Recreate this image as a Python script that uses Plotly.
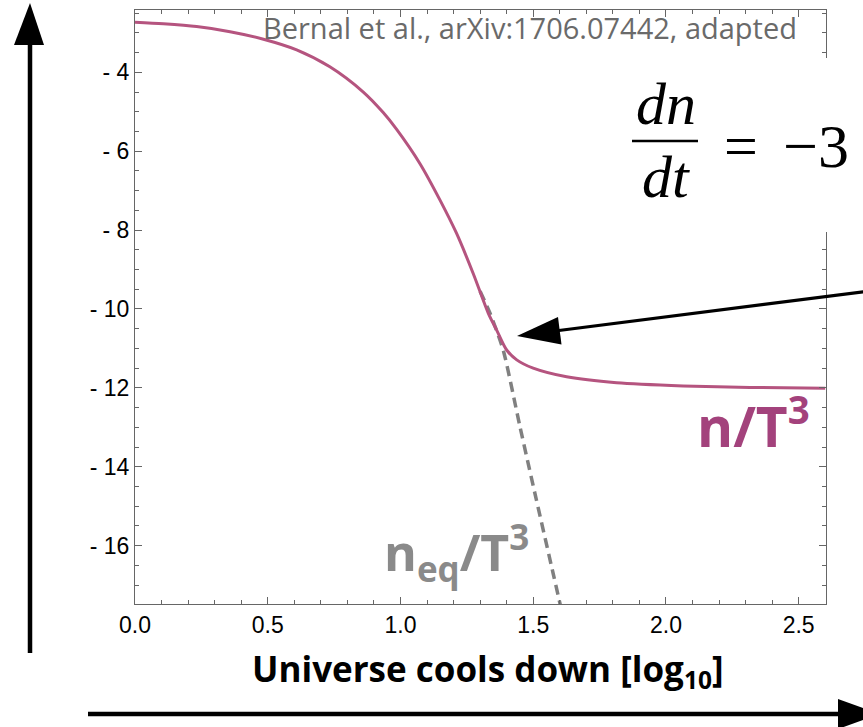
import plotly.graph_objects as go

# Freeze-out yield n/T^3 (log10) versus log10 of the cooling variable
x_n = [0.0, 0.107, 0.232, 0.358, 0.484, 0.609, 0.734, 0.86, 0.935, 0.985, 1.073, 1.149, 1.211,
       1.274, 1.331, 1.362, 1.40, 1.438, 1.50, 1.626, 1.814, 2.065, 2.316, 2.60]
y_n = [-2.73, -2.77, -2.84, -2.97, -3.16, -3.43, -3.86, -4.50, -5.02, -5.44, -6.31, -7.24, -8.08,
       -9.10, -10.11, -10.53, -11.04, -11.29, -11.50, -11.72, -11.87, -11.95, -11.99, -12.01]

# Equilibrium yield n_eq/T^3 once it leaves the freeze-out curve
x_eq = [1.30, 1.337, 1.387, 1.45, 1.512, 1.575, 1.602]
y_eq = [-9.55, -10.10, -11.04, -12.98, -14.84, -16.70, -17.50]

x_ticks = [0.0, 0.5, 1.0, 1.5, 2.0, 2.5]
x_labels = ["0.0", "0.5", "1.0", "1.5", "2.0", "2.5"]
y_ticks = [-4, -6, -8, -10, -12, -14, -16]
y_labels = ["- 4", "- 6", "- 8", "- 10", "- 12", "- 14", "- 16"]

W, H = 863, 727
L, R, T, B = 135, 826, 10, 604

PINK = "#b5547f"
PINK_TXT = "#a3427c"
GREY = "#808080"
AXIS = "#666666"


def px(x):
    return (x - L) / (R - L)


def py(y):
    return (B - y) / (B - T)


def path(points):
    return "M " + " L ".join(f"{px(a):.5f},{py(b):.5f}" for a, b in points) + " Z"


fig = go.Figure()
fig.add_trace(go.Scatter(x=x_eq, y=y_eq, mode="lines",
                         line=dict(color=GREY, width=3.5, dash="10px,6px", shape="spline", smoothing=0.6),
                         hoverinfo="skip"))
fig.add_trace(go.Scatter(x=x_n, y=y_n, mode="lines",
                         line=dict(color=PINK, width=3, shape="spline", smoothing=0.8),
                         hoverinfo="skip"))

TICK_FONT = dict(family="Liberation Sans", size=23, color="#000000")

axis_style = dict(showline=True, linecolor=AXIS, linewidth=1, mirror="ticks", ticks="inside",
                  tickcolor=AXIS, ticklen=7, tickwidth=1, showgrid=False, zeroline=False,
                  fixedrange=True)

fig.update_layout(
    xaxis=dict(range=[0, 2.603], tickmode="array", tickvals=x_ticks, ticktext=x_labels,
               tickfont=TICK_FONT,
               minor=dict(tick0=0, dtick=0.1, ticks="inside", ticklen=4, tickcolor=AXIS, showgrid=False),
               **axis_style),
    yaxis=dict(range=[-17.48, -2.42], tickmode="array", tickvals=y_ticks, ticktext=y_labels,
               tickfont=TICK_FONT,
               minor=dict(tick0=0, dtick=0.5, ticks="inside", ticklen=4, tickcolor=AXIS, showgrid=False),
               **axis_style),
)

shapes = []
# white panel behind the rate equation
shapes.append(dict(type="rect", xref="paper", yref="paper", x0=px(600), x1=px(870), y0=py(232), y1=py(58),
                   fillcolor="white", line=dict(width=0), layer="above"))
# fraction bar
shapes.append(dict(type="line", xref="paper", yref="paper", x0=px(632), x1=px(698), y0=py(141), y1=py(141),
                   line=dict(color="black", width=2.5), layer="above"))
# vertical arrow (yield axis)
shapes.append(dict(type="line", xref="paper", yref="paper", x0=px(30), x1=px(30), y0=py(653), y1=py(40),
                   line=dict(color="black", width=4.5), layer="above"))
shapes.append(dict(type="path", xref="paper", yref="paper",
                   path=path([(30, 3), (14, 45), (44, 45)]),
                   fillcolor="black", line=dict(width=0), layer="above"))
# horizontal arrow (cooling axis)
shapes.append(dict(type="line", xref="paper", yref="paper", x0=px(88), x1=px(842), y0=py(714), y1=py(714),
                   line=dict(color="black", width=4.5), layer="above"))
shapes.append(dict(type="path", xref="paper", yref="paper",
                   path=path([(880, 714), (838, 699), (838, 729)]),
                   fillcolor="black", line=dict(width=0), layer="above"))
# arrow pointing at freeze-out
shapes.append(dict(type="line", xref="paper", yref="paper", x0=px(870), x1=px(555), y0=py(291), y1=py(331),
                   line=dict(color="black", width=3.2), layer="above"))
shapes.append(dict(type="path", xref="paper", yref="paper",
                   path=path([(517, 336), (561.5, 344.5), (558, 317)]),
                   fillcolor="black", line=dict(width=0), layer="above"))

ann = []
ann.append(dict(text="Bernal et al., arXiv:1706.07442, adapted", xref="paper", yref="paper",
                x=px(799), y=py(28), xanchor="right", yanchor="middle", showarrow=False,
                font=dict(family="Open Sans, sans-serif", size=29, color="#6a6a6a")))
ann.append(dict(text="<b>Universe cools down [log<sub>10</sub>]</b>", xref="paper", yref="paper",
                x=px(488), y=py(670), xanchor="center", yanchor="middle", showarrow=False,
                font=dict(family="Open Sans, sans-serif", size=35, color="black")))
ann.append(dict(text="<b>n/T<sup>3</sup></b>", xref="paper", yref="paper",
                x=px(812), y=py(423), xanchor="right", yanchor="middle", showarrow=False,
                font=dict(family="Open Sans, sans-serif", size=55, color=PINK_TXT)))
ann.append(dict(text="<b>n<sub>eq</sub>/T<sup>3</sup></b>", xref="paper", yref="paper",
                x=px(382), y=py(552), xanchor="left", yanchor="middle", showarrow=False,
                font=dict(family="Open Sans, sans-serif", size=50, color="#8a8a8a")))
serif = "Liberation Serif, DejaVu Serif, serif"
ann.append(dict(text="<i>dn</i>", xref="paper", yref="paper", x=px(666), y=py(104),
                xanchor="center", yanchor="middle", showarrow=False,
                font=dict(family=serif, size=60, color="black")))
ann.append(dict(text="<i>dt</i>", xref="paper", yref="paper", x=px(666), y=py(177),
                xanchor="center", yanchor="middle", showarrow=False,
                font=dict(family=serif, size=60, color="black")))
ann.append(dict(text="=", xref="paper", yref="paper", x=px(741), y=py(146),
                xanchor="center", yanchor="middle", showarrow=False,
                font=dict(family=serif, size=60, color="black")))
ann.append(dict(text="\u22123", xref="paper", yref="paper", x=px(781), y=py(146),
                xanchor="left", yanchor="middle", showarrow=False,
                font=dict(family=serif, size=62, color="black")))

fig.update_layout(width=W, height=H, margin=dict(l=L, r=W - R, t=T, b=H - B),
                  paper_bgcolor="white", plot_bgcolor="white", showlegend=False,
                  shapes=shapes, annotations=ann)

fig.write_html("out.html", config={"displayModeBar": False})
